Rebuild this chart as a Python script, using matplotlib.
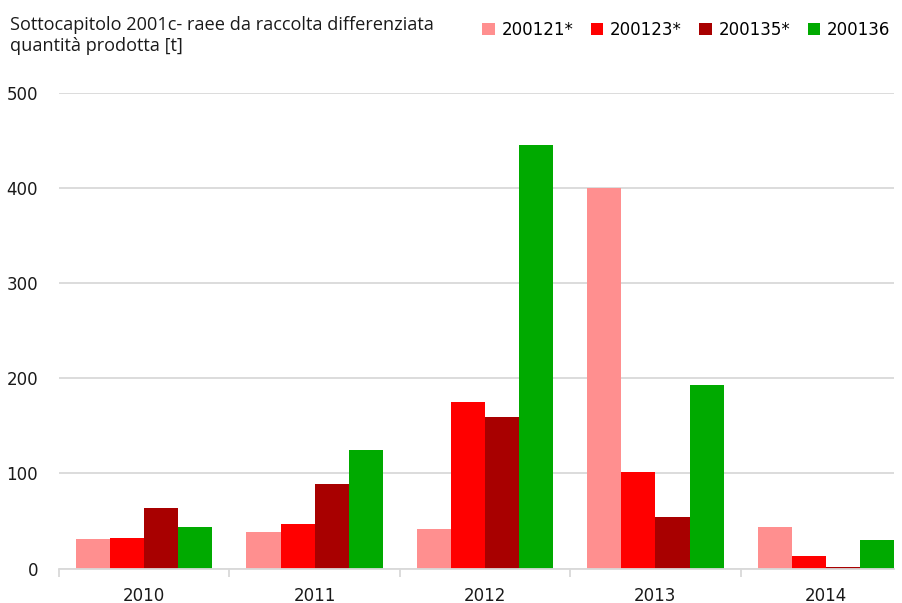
import numpy as np
import matplotlib
matplotlib.use("Agg")
import matplotlib.pyplot as plt
from matplotlib.ticker import FixedLocator

# data
years = ["2010", "2011", "2012", "2013", "2014"]
series_names = ["200121*", "200123*", "200135*", "200136"]
v_200121 = [31.5, 38, 42, 400, 44]
v_200123 = [32.5, 47, 175, 101.5, 13]
v_200135 = [64, 89, 159.5, 54, 2]
v_200136 = [44, 124.5, 445.5, 193, 30]
colors = ["#ff8f8f", "#ff0000", "#a80000", "#00aa00"]

plt.rcParams['font.family'] = ['DejaVu Sans']

fig = plt.figure(figsize=(9.02, 6.03), dpi=100)
ax = fig.add_axes([59 / 902, 1 - 568.5 / 603, (894 - 59) / 902, (568.5 - 93) / 603])

x = np.arange(len(years))
width = 0.2
all_values = [v_200121, v_200123, v_200135, v_200136]
for i, (name, vals) in enumerate(zip(series_names, all_values)):
    ax.bar(x + (i - 1.5) * width, vals, width, color=colors[i], label=name,
           linewidth=0)

ax.set_ylim(0, 500)
ax.set_xlim(-0.5, 4.4)
ax.set_yticks([0, 100, 200, 300, 400, 500])
ax.yaxis.grid(True, color="#d9d9d9", linewidth=1.3)
ax.set_axisbelow(True)
ax.tick_params(axis="y", length=0, pad=15, labelsize=12, labelcolor="#1a1a1a")

ax.set_xticks(x)
ax.set_xticklabels(years)
ax.tick_params(axis="x", which="major", length=0, pad=13, labelsize=12, labelcolor="#1a1a1a")
ax.xaxis.set_minor_locator(FixedLocator(np.arange(-0.5, 4.5, 1.0)))
ax.tick_params(axis="x", which="minor", length=6, width=1.3, color="#d9d9d9")

for side in ["top", "right", "left"]:
    ax.spines[side].set_visible(False)
ax.spines["bottom"].set_color("#d9d9d9")
ax.spines["bottom"].set_linewidth(1.3)

fig.text(10 / 902, 1 - 35.5 / 603, "Sottocapitolo 2001c- raee da raccolta differenziata\nquantità prodotta [t]",
         fontsize=13.1, family="Open Sans", va="center", ha="left", linespacing=1.15, color="#1a1a1a")

fig.legend(loc="center right", bbox_to_anchor=(897 / 902, 1 - 30 / 603), ncol=4, frameon=False,
           fontsize=12, handlelength=0.75, handleheight=0.75, handletextpad=0.4,
           columnspacing=1.05, borderaxespad=0)

fig.savefig("out.png", dpi=100)
